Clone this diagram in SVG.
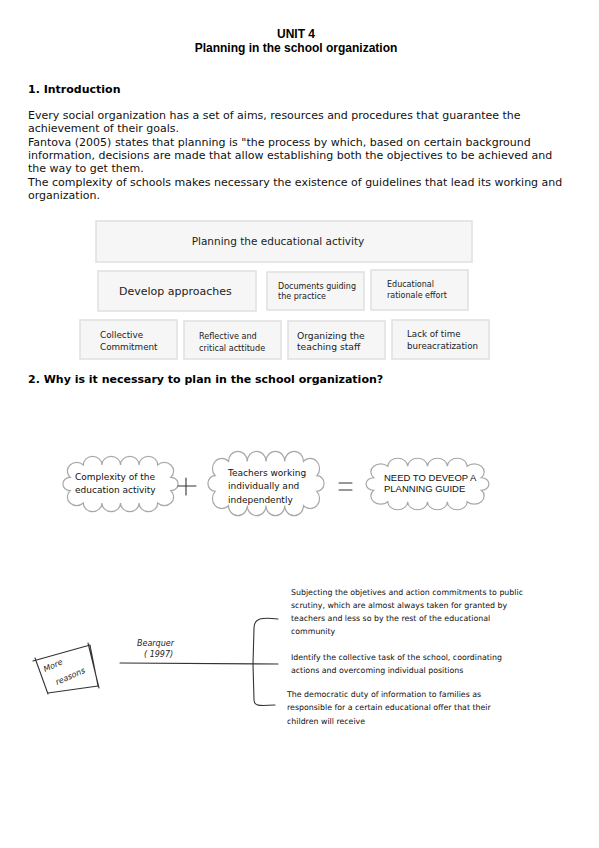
<svg xmlns="http://www.w3.org/2000/svg" xmlns:xlink="http://www.w3.org/1999/xlink" width="599" height="848" viewBox="0 0 599 848">
<defs>
<style>
.title{font-family:"Liberation Sans",Arial,sans-serif;font-weight:bold;font-size:12px;fill:#000;text-anchor:middle}
.h{font-family:"DejaVu Sans",sans-serif;font-weight:bold;font-size:11px;fill:#000}
.p{font-family:"DejaVu Sans",sans-serif;font-size:11px;fill:#111}
.box{fill:#f6f6f6;stroke:#e0e0e0;stroke-width:1.5}
.bt{font-family:"DejaVu Sans",sans-serif;fill:#222}
.cloud{fill:#fff;stroke:#a8a8a8;stroke-width:1.2}
.ct{font-family:"DejaVu Sans",sans-serif;font-size:9px;fill:#111}
.ink{fill:none;stroke:#333;stroke-width:1.1;stroke-linecap:round;stroke-linejoin:round}
.rt{font-family:"DejaVu Sans",sans-serif;font-size:7.85px;fill:#111}
.hw{font-family:"DejaVu Sans",sans-serif;font-style:italic;font-size:8px;fill:#222}
</style>
<path id="cl" d="M42,-6 A1,1 0 0 1 42,6 A1,1 0 0 1 31,17 A1,1 0 0 1 15.5,17 A1,1 0 0 1 0,17 A1,1 0 0 1 -15.5,17 A1,1 0 0 1 -31,17 A1,1 0 0 1 -42,6 A1,1 0 0 1 -42,-6 A1,1 0 0 1 -31,-17 A1,1 0 0 1 -15.5,-17 A1,1 0 0 1 0,-17 A1,1 0 0 1 15.5,-17 A1,1 0 0 1 31,-17 A1,1 0 0 1 42,-6 Z" vector-effect="non-scaling-stroke"/>
</defs>
<rect width="599" height="848" fill="#fff"/>

<g id="header">
<text class="title" x="296" y="38">UNIT 4</text>
<text class="title" x="296" y="52">Planning in the school organization</text>
</g>

<g id="intro">
<text class="h" x="28" y="93">1. Introduction</text>
<text class="p" x="28" y="119">Every social organization has a set of aims, resources and procedures that guarantee the</text>
<text class="p" x="28" y="132">achievement of their goals.</text>
<text class="p" x="28" y="146">Fantova (2005) states that planning is "the process by which, based on certain background</text>
<text class="p" x="28" y="159">information, decisions are made that allow establishing both the objectives to be achieved and</text>
<text class="p" x="28" y="172">the way to get them.</text>
<text class="p" x="28" y="186">The complexity of schools makes necessary the existence of guidelines that lead its working and</text>
<text class="p" x="28" y="199">organization.</text>
</g>

<g id="n-planning">
<rect class="box" x="96" y="221" width="376" height="41"/>
<text class="bt" x="278" y="245" font-size="10.5" text-anchor="middle">Planning the educational activity</text>
</g>
<g id="n-develop">
<rect class="box" x="98" y="271" width="158" height="40"/>
<text class="bt" x="119" y="295" font-size="11">Develop approaches</text>
</g>
<g id="n-documents">
<rect class="box" x="267" y="272" width="97" height="38"/>
<text class="bt" x="278" y="289" font-size="8">Documents guiding</text>
<text class="bt" x="278" y="299" font-size="8">the practice</text>
</g>
<g id="n-rationale">
<rect class="box" x="371" y="270" width="97" height="40"/>
<text class="bt" x="387" y="287" font-size="8">Educational</text>
<text class="bt" x="387" y="298" font-size="8">rationale effort</text>
</g>
<g id="n-collective">
<rect class="box" x="80" y="320" width="97" height="39"/>
<text class="bt" x="100" y="338" font-size="8.8">Collective</text>
<text class="bt" x="100" y="350" font-size="8.8">Commitment</text>
</g>
<g id="n-reflective">
<rect class="box" x="184" y="321" width="97" height="38"/>
<text class="bt" x="199" y="339" font-size="8.1" fill="#444">Reflective and</text>
<text class="bt" x="199" y="351" font-size="8.1" fill="#444">critical acttitude</text>
</g>
<g id="n-organizing">
<rect class="box" x="288" y="321" width="97" height="38"/>
<text class="bt" x="297" y="339" font-size="9.2">Organizing the</text>
<text class="bt" x="297" y="350" font-size="9.2">teaching  staff</text>
</g>
<g id="n-lack">
<rect class="box" x="392" y="320" width="97" height="39"/>
<text class="bt" x="407" y="337" font-size="8.7">Lack of time</text>
<text class="bt" x="407" y="349" font-size="8.7">bureacratization</text>
</g>

<g id="section2">
<text class="h" x="28" y="383">2. Why is it necessary to plan in the school organization?</text>
</g>

<g id="n-complexity">
<use xlink:href="#cl" class="cloud" transform="translate(120.5 484) scale(1.2 1.12)"/>
<text class="ct" x="75" y="480" font-size="10">Complexity of the</text>
<text class="ct" x="75" y="493" font-size="10">education activity</text>
</g>
<g id="n-teachers">
<use xlink:href="#cl" class="cloud" transform="translate(266 483.5) scale(1.21 1.3)"/>
<text class="ct" x="228" y="476">Teachers working</text>
<text class="ct" x="228" y="489">individually and</text>
<text class="ct" x="228" y="503">independently</text>
</g>
<g id="n-need">
<use xlink:href="#cl" class="cloud" transform="translate(427.5 484) scale(1.28 1.04)"/>
<text x="384" y="481" font-family="Liberation Sans, Arial, sans-serif" font-size="9.5" fill="#111">NEED TO DEVEOP A</text>
<text x="384" y="492" font-family="Liberation Sans, Arial, sans-serif" font-size="9.5" fill="#111">PLANNING GUIDE</text>
</g>

<g id="n-more">
<path class="ink" d="M33,661 L90,645 L98,686 L48,693 M35,658 L48,694 M88,643 L99,688"/>
<text class="hw" font-size="9" transform="translate(45 672) rotate(-24)">More</text>
<text class="hw" font-size="9" transform="translate(57 685) rotate(-24)">reasons</text>
</g>

<g id="connectors">
<path class="ink" d="M120,663 L278,664"/>
<path class="ink" d="M278,619 C262,617 254,618 254,628 L253,664 L254,700 C254,706 258,706 275,705"/>
<path class="ink" d="M186,478 L186,495 M178,486 L196,486"/>
<path class="ink" d="M339,483 L352,483 M339,490 L352,490" stroke="#666"/>
<text class="hw" x="137" y="646">Bearquer</text>
<text class="hw" x="144" y="657">( 1997)</text>
</g>

<g id="n-reasons">
<text class="rt" x="291" y="595">Subjecting the objetives and action commitments to public</text>
<text class="rt" x="291" y="608">scrutiny, which are almost always taken for granted by</text>
<text class="rt" x="291" y="621">teachers and less so by the rest of the educational</text>
<text class="rt" x="291" y="634">community</text>
<text class="rt" x="291" y="660">Identify the collective task of the school, coordinating</text>
<text class="rt" x="291" y="673">actions and overcoming individual positions</text>
<text class="rt" x="287" y="697">The democratic duty of information to families as</text>
<text class="rt" x="287" y="710">responsible for a certain educational offer that their</text>
<text class="rt" x="287" y="724">children will receive</text>
</g>
</svg>
